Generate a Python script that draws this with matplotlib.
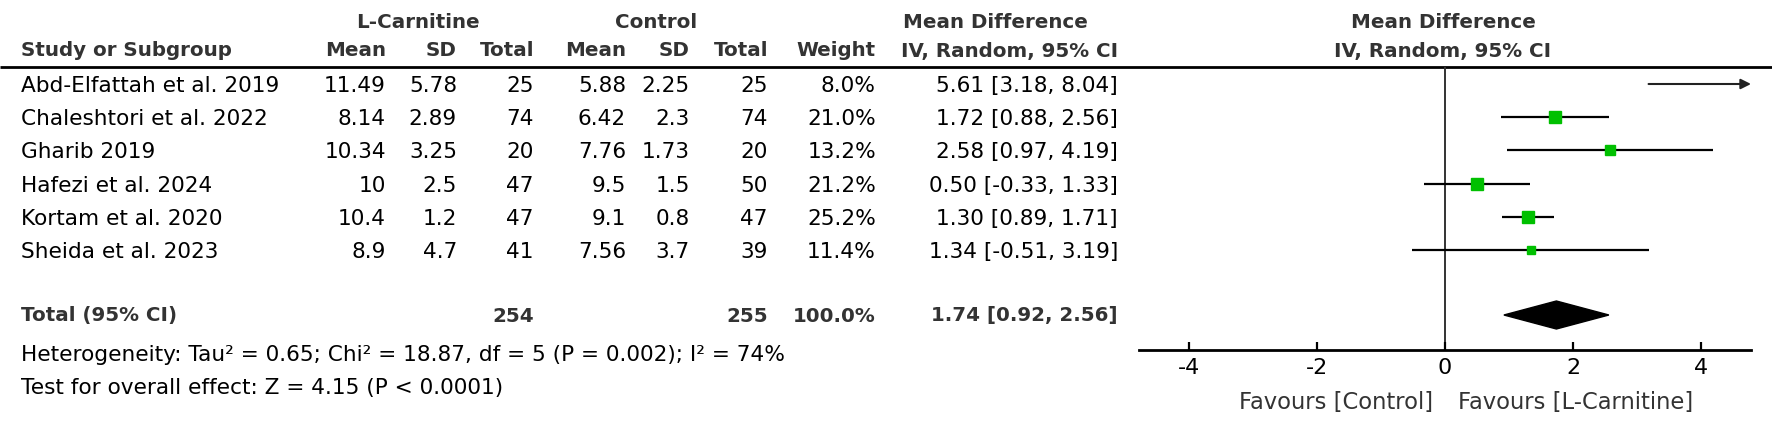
import numpy as np
import matplotlib
matplotlib.use("Agg")
import matplotlib.pyplot as plt
from matplotlib.patches import Polygon

# ---------------- data ----------------
studies = ["Abd-Elfattah et al. 2019", "Chaleshtori et al. 2022", "Gharib 2019",
           "Hafezi et al. 2024", "Kortam et al. 2020", "Sheida et al. 2023"]
exp_mean = ["11.49", "8.14", "10.34", "10", "10.4", "8.9"]
exp_sd = ["5.78", "2.89", "3.25", "2.5", "1.2", "4.7"]
exp_total = [25, 74, 20, 47, 47, 41]
ctl_mean = ["5.88", "6.42", "7.76", "9.5", "9.1", "7.56"]
ctl_sd = ["2.25", "2.3", "1.73", "1.5", "0.8", "3.7"]
ctl_total = [25, 74, 20, 50, 47, 39]
weights = [8.0, 21.0, 13.2, 21.2, 25.2, 11.4]
md = [5.61, 1.72, 2.58, 0.50, 1.30, 1.34]
ci_lo = [3.18, 0.88, 0.97, -0.33, 0.89, -0.51]
ci_hi = [8.04, 2.56, 4.19, 1.33, 1.71, 3.19]
total_exp = 254
total_ctl = 255
pooled_md, pooled_lo, pooled_hi = 1.74, 0.92, 2.56
het_text = "Heterogeneity: Tau\u00b2 = 0.65; Chi\u00b2 = 18.87, df = 5 (P = 0.002); I\u00b2 = 74%"
test_text = "Test for overall effect: Z = 4.15 (P < 0.0001)"
xticks = [-4, -2, 0, 2, 4]
fav_left = "Favours [Control]"
fav_right = "Favours [L-Carnitine]"

# ---------------- layout ----------------
W, H = 1772, 432
DPI = 100
FS = 15.6      # body text
FSH = 14.3     # bold headers
FSF = 16.3     # favours labels
plt.rcParams['font.family'] = ['DejaVu Sans']

fig = plt.figure(figsize=(W / DPI, H / DPI), dpi=DPI)
fig.patch.set_facecolor("white")
tab = fig.add_axes([0, 0, 1, 1])
tab.set_xlim(0, W)
tab.set_ylim(H, 0)
tab.axis("off")

row_y0, row_dy = 84, 33.2
rows_y = [row_y0 + i * row_dy for i in range(len(studies))]
TXT_DY = 2
total_y = 314
het_y = 353
test_y = 386
hdr1_y, hdr2_y = 20, 49
rule_y = 67
axis_y = 350

xc = dict(name=21, em=386, esd=457, etot=534, cm=626, csd=690, ctot=768, w=876, ci=1118)
HC = "#333333"

def t(x, y, s, ha="right", bold=False, color="black", fs=None, **kw):
    tab.text(x, y + TXT_DY, s, ha=ha, va="center",
             fontsize=fs if fs else (FSH if bold else FS),
             fontweight="bold" if bold else "normal", color=color, **kw)

# group headers
t(418, hdr1_y, "L-Carnitine", ha="center", bold=True, color=HC)
t(656, hdr1_y, "Control", ha="center", bold=True, color=HC)
t(995, hdr1_y, "Mean Difference", ha="center", bold=True, color=HC)
t(1443, hdr1_y, "Mean Difference", ha="center", bold=True, color=HC)
t(1443, hdr2_y, "IV, Random, 95% CI", ha="center", bold=True, color=HC)
# column headers
t(xc["name"], hdr2_y, "Study or Subgroup", ha="left", bold=True, color=HC)
for key, lab in [("em", "Mean"), ("esd", "SD"), ("etot", "Total"), ("cm", "Mean"),
                 ("csd", "SD"), ("ctot", "Total"), ("w", "Weight"), ("ci", "IV, Random, 95% CI")]:
    t(xc[key], hdr2_y, lab, bold=True, color=HC)

tab.plot([0, W], [rule_y, rule_y], color="black", lw=2.0, solid_capstyle="butt")

for i, y in enumerate(rows_y):
    t(xc["name"], y, studies[i], ha="left")
    t(xc["em"], y, exp_mean[i])
    t(xc["esd"], y, exp_sd[i])
    t(xc["etot"], y, str(exp_total[i]))
    t(xc["cm"], y, ctl_mean[i])
    t(xc["csd"], y, ctl_sd[i])
    t(xc["ctot"], y, str(ctl_total[i]))
    t(xc["w"], y, f"{weights[i]:.1f}%")
    t(xc["ci"], y, f"{md[i]:.2f} [{ci_lo[i]:.2f}, {ci_hi[i]:.2f}]")

t(xc["name"], total_y, "Total (95% CI)", ha="left", bold=True, color=HC)
t(xc["etot"], total_y, str(total_exp), bold=True, color=HC)
t(xc["ctot"], total_y, str(total_ctl), bold=True, color=HC)
t(xc["w"], total_y, f"{sum(weights):.1f}%", bold=True, color=HC)
t(xc["ci"], total_y, f"{pooled_md:.2f} [{pooled_lo:.2f}, {pooled_hi:.2f}]", bold=True, color=HC)
t(xc["name"], het_y, het_text, ha="left")
t(xc["name"], test_y, test_text, ha="left")

# ---------------- forest panel ----------------
XMAX = 4.78
fx0, fx1 = 1139, 1751
fa = fig.add_axes([fx0 / W, 1 - axis_y / H, (fx1 - fx0) / W, (axis_y - rule_y) / H])
fa.set_xlim(-XMAX, XMAX)
fa.set_ylim(axis_y, rule_y)
fa.patch.set_alpha(0)
for s in ["top", "left", "right"]:
    fa.spines[s].set_visible(False)
fa.spines["bottom"].set_linewidth(2.0)
fa.set_yticks([])
fa.set_xticks(xticks)
fa.set_xticklabels([str(v) for v in xticks])
fa.tick_params(axis="x", direction="in", length=6, width=1.6, pad=6,
               labelsize=16, colors="black")
fa.axvline(0, color="#333333", lw=1.4, zorder=1)

max_w = max(weights)
for i, y in enumerate(rows_y):
    lo, hi, m = ci_lo[i], ci_hi[i], md[i]
    if hi > XMAX:
        fa.annotate("", xy=(XMAX, y), xytext=(lo, y),
                    arrowprops=dict(arrowstyle="-|>", lw=1.5, color="#222222",
                                    mutation_scale=15, shrinkA=0, shrinkB=0))
    else:
        fa.plot([lo, hi], [y, y], color="black", lw=1.6, solid_capstyle="butt", zorder=2)
    if -XMAX < m < XMAX:
        side = 9.0 * np.sqrt(weights[i] / max_w)
        fa.plot([m], [y], marker="s", ms=side, color="#00C000", mec="#00C000", zorder=3)

dh = 14
diamond = Polygon([[pooled_lo, total_y + 1], [pooled_md, total_y + 1 - dh],
                   [pooled_hi, total_y + 1], [pooled_md, total_y + 1 + dh]],
                  closed=True, color="black", zorder=3)
fa.add_patch(diamond)

fav_y = 401
t(1433, fav_y, fav_left, ha="right", color="#333333", fs=FSF)
t(1458, fav_y, fav_right, ha="left", color="#333333", fs=FSF)

fig.savefig("out.png", dpi=DPI, facecolor="white")
